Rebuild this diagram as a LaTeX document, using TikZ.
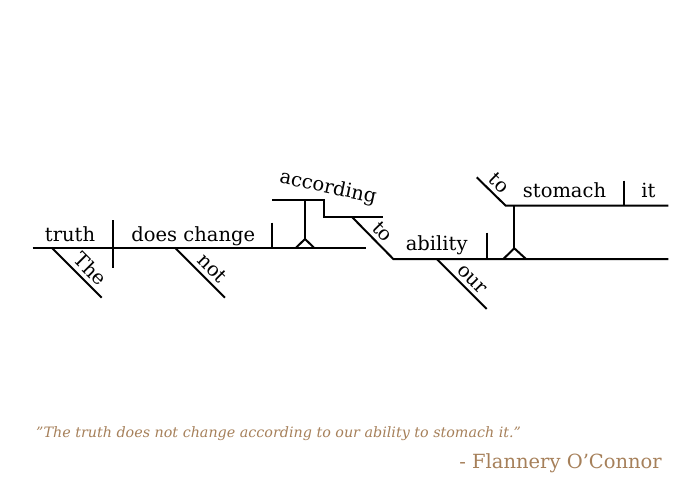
\documentclass[tikz,border=0pt]{standalone}
\usepackage{fontspec}
\setmainfont{DejaVu Serif}
\usepackage{tikz}
\definecolor{quotebrown}{RGB}{166,128,90}
\tikzset{
	diagram/.style={line width=2pt},
	word/.style={font=\fontsize{19.5}{22}\selectfont, anchor=base, inner sep=0pt},
	modifier/.style={font=\fontsize{19.5}{22}\selectfont, sloped, above=3pt, inner sep=1pt},
}

\begin{document}
\begin{tikzpicture}[x=1pt,y=-1pt]
			\useasboundingbox (0,0) rectangle (700,500);
			% main line
			\draw[diagram] (32.7,247.7) -- (365.7,247.7);
			\draw[diagram] (112.7,220) -- (112.7,267.7);
			\draw[diagram] (272.3,222.7) -- (272.3,247.7);
			\node[word] (truth) at (70,241) {truth};
			\node[word] (doeschange) at (193.3,241) {does change};
			\draw[diagram] (51.7,247.7) -- node[modifier, pos=0.6] (the) {The} (101.7,297.7);
			\draw[diagram] (175,247.7) -- node[modifier, pos=0.58] (not) {not} (225,297.7);
			% prepositional phrase
			\draw[diagram] (296,247.7) -- (305,239) -- (314,247.7);
			\draw[diagram] (305,239) -- (305,200);
			\draw[diagram] (272.3,200) -- (324,200) -- (324,216.7) -- (383.3,216.7);
			\node[word, anchor=center, rotate=-12] (according) at (328,188) {according};
			\draw[diagram] (351.7,216.7) -- node[modifier, pos=0.55] (to) {to} (393.3,259) -- (668.3,259);
			\draw[diagram] (486.7,232.7) -- (486.7,259);
			\node[word] (ability) at (436.7,250.7) {ability};
			\draw[diagram] (436.7,259) -- node[modifier, pos=0.56] (our) {our} (486.7,309);
			% infinitive
			\draw[diagram] (503.3,259) -- (514.3,248.3) -- (526,259);
			\draw[diagram] (514.3,248.3) -- (514.3,205.7);
			\draw[diagram] (476.7,177.3) -- node[modifier, pos=0.5] (toinf) {to} (505.7,205.7) -- (668.3,205.7);
			\draw[diagram] (623.7,180.7) -- (623.7,205.7);
			\node[word] (stomach) at (564.5,197.3) {stomach};
			\node[word] (it) at (648.3,197.3) {it};
			% quote
			\node[anchor=base west, inner sep=0pt, text=quotebrown, font=\fontsize{14.3}{16}\selectfont\itshape] (quote) at (36,437) {"The truth does not change according to our ability to stomach it."};
			\node[anchor=base east, inner sep=0pt, text=quotebrown, font=\fontsize{19.5}{21}\selectfont] (author) at (662,468) {- Flannery O’Connor};
		\end{tikzpicture}
\end{document}
